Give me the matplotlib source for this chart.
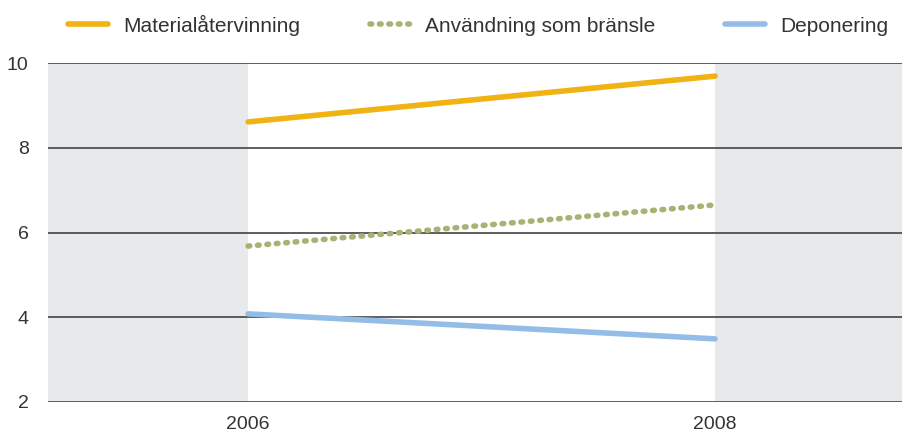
import matplotlib.pyplot as plt

years = [2006, 2008]
material = [8.61, 9.69]
bransle = [5.68, 6.65]
deponering = [4.08, 3.49]
labels = ['Materialåtervinning', 'Användning som bränsle', 'Deponering']

plt.rcParams['font.family'] = ['Liberation Sans', 'DejaVu Sans']

fig = plt.figure(figsize=(9.03, 4.37), dpi=100)
ax = fig.add_axes([48 / 903, 35 / 437, 855 / 903, 339 / 437])

xmin, xmax = 2005.143, 2008.805
ax.set_xlim(xmin, xmax)
ax.set_ylim(2, 10)

# grey bands outside the data range
ax.axvspan(xmin, 2006, color='#e8e9eb', lw=0, zorder=0)
ax.axvspan(2008, xmax, color='#e8e9eb', lw=0, zorder=0)

for y in [2, 4, 6, 8, 10]:
    ax.axhline(y, color='#505050', lw=1.3, zorder=1)

ax.plot(years, material, color='#f0b313', lw=4, solid_capstyle='round', zorder=3, label=labels[0])
ax.plot(years, bransle, color='#a9b174', lw=4, linestyle=(0, (0.3, 1.4)), dash_capstyle='round', zorder=3, label=labels[1])
ax.plot(years, deponering, color='#93bde6', lw=4, solid_capstyle='round', zorder=3, label=labels[2])

ax.set_xticks(years)
ax.set_yticks([2, 4, 6, 8, 10])
ax.tick_params(length=0, labelsize=14, colors='#333333', pad=10)
ax.tick_params(axis='y', pad=14)
for s in ax.spines.values():
    s.set_visible(False)

leg = fig.legend(loc='center left', bbox_to_anchor=(68 / 903, 1 - 25 / 437), ncol=3, frameon=False,
                 fontsize=15, handlelength=1.9, columnspacing=3.35, handletextpad=0.75,
                 borderpad=0, borderaxespad=0)
for t in leg.get_texts():
    t.set_color('#333333')

fig.savefig('out.png', dpi=100)
